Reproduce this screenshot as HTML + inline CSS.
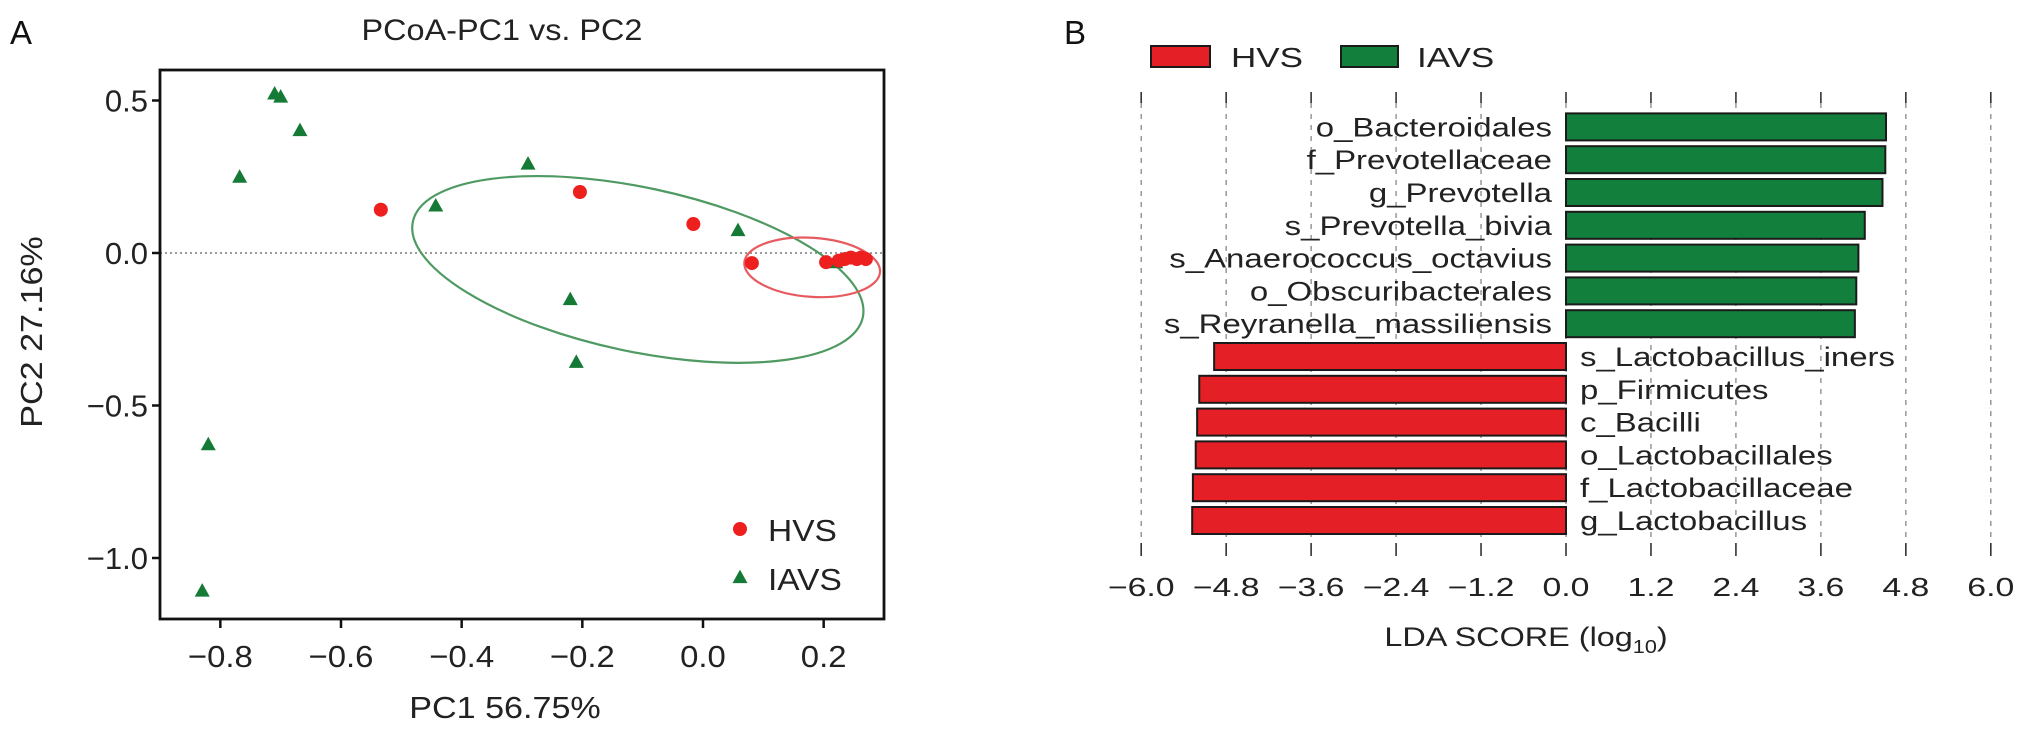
<!DOCTYPE html>
<html><head><meta charset="utf-8">
<style>
html,body{margin:0;padding:0;background:#fff;}
svg{display:block;font-family:"Liberation Sans",Arial,sans-serif;}
</style></head>
<body>
<svg id="fig" width="2031" height="731" viewBox="0 0 2031 731" xmlns="http://www.w3.org/2000/svg">
  <text x="10" y="44" font-size="33" fill="#111">A</text>
  <text x="1064" y="44" font-size="33" fill="#111">B</text>
  <g id="pa"></g>
  <g id="pb"></g>
</svg>
<script>
// ---------- Panel A data ----------
const hvsX = [-0.534, -0.204, -0.016, 0.081, 0.204, 0.225, 0.235, 0.245, 0.255, 0.262, 0.27];
const hvsY = [0.142, 0.200, 0.095, -0.033, -0.03, -0.025, -0.02, -0.015, -0.02, -0.015, -0.02];
const iavsX = [-0.71, -0.70, -0.668, -0.768, -0.29, -0.443, 0.058, -0.22, -0.21, -0.82, -0.83, 0.22];
const iavsY = [0.52, 0.51, 0.40, 0.247, 0.29, 0.153, 0.072, -0.154, -0.36, -0.63, -1.11, -0.033];
const xTicksA = [-0.8, -0.6, -0.4, -0.2, 0.0, 0.2];
const yTicksA = [0.5, 0.0, -0.5, -1.0];
const ellGreen = {cx: -0.108, cy: -0.054, a: 230, b: 82, rot: 12};
const ellRed = {cx: 0.181, cy: -0.047, a: 68, b: 29.5, rot: 4};

// ---------- Panel B data ----------
const ldaLabels = ["o_Bacteroidales","f_Prevotellaceae","g_Prevotella","s_Prevotella_bivia","s_Anaerococcus_octavius","o_Obscuribacterales","s_Reyranella_massiliensis","s_Lactobacillus_iners","p_Firmicutes","c_Bacilli","o_Lactobacillales","f_Lactobacillaceae","g_Lactobacillus"];
const ldaValues = [4.52, 4.51, 4.47, 4.22, 4.13, 4.10, 4.08, -4.97, -5.18, -5.21, -5.23, -5.27, -5.28];
const ldaTicks = [-6.0, -4.8, -3.6, -2.4, -1.2, 0.0, 1.2, 2.4, 3.6, 4.8, 6.0];

const NS = "http://www.w3.org/2000/svg";
function mk(tag, attrs, parent){ const e=document.createElementNS(NS,tag); for(const k in attrs) e.setAttribute(k,attrs[k]); parent.appendChild(e); return e; }
function stretch(t,k){ const w=t.getComputedTextLength(); t.setAttribute('textLength', (w*k).toFixed(1)); t.setAttribute('lengthAdjust','spacingAndGlyphs'); }
const fmt = v => (v<0?'\u2212':'') + Math.abs(v).toFixed(1);

// ---------- Panel A ----------
const pa = document.getElementById('pa');
const AL=160, AR=884, AT=70, AB=619;
const xA = v => AL + (v - (-0.9)) / 1.2 * (AR-AL);
const yA = v => AB - (v - (-1.2)) / 1.8 * (AB-AT);

let t = mk('text',{x:502,y:40,'font-size':30,'text-anchor':'middle',fill:'#222'},pa); t.textContent='PCoA-PC1 vs. PC2';
  stretch(t,1.08);

let zl = mk('line',{x1:AL,x2:AR,y1:yA(0),y2:yA(0),stroke:'#999','stroke-width':2,'stroke-dasharray':'2,3'},pa);
 

yTicksA.forEach(v=>{
  const y=yA(v);
  const l=mk('line',{x1:AL-8,x2:AL,y1:y,y2:y,stroke:'#111','stroke-width':2.5},pa);
   
  const tx=mk('text',{x:148,y:y+11,'font-size':31,'text-anchor':'end',fill:'#222'},pa); tx.textContent=fmt(v);
   
});
xTicksA.forEach(v=>{
  const x=xA(v);
  const l=mk('line',{x1:x,x2:x,y1:AB,y2:AB+9,stroke:'#111','stroke-width':2.5},pa);
   
  const tx=mk('text',{x:x,y:667,'font-size':31,'text-anchor':'middle',fill:'#222'},pa); tx.textContent=fmt(v);
   
  stretch(tx,1.06);
});
t=mk('text',{x:505,y:718,'font-size':31,'text-anchor':'middle',fill:'#222'},pa); t.textContent='PC1 56.75%';
  stretch(t,1.1);
t=mk('text',{x:0,y:0,'font-size':31,'text-anchor':'middle',fill:'#222',transform:'translate(42,332) rotate(-90)'},pa); t.textContent='PC2 27.16%';
  stretch(t,1.1);

[[ellGreen,'#4f9a62','green-ellipse'],[ellRed,'#e65a60','red-ellipse']].forEach(([e,c,n])=>{
  const el=mk('ellipse',{cx:0,cy:0,rx:e.a,ry:e.b,fill:'none',stroke:c,'stroke-width':2.2,transform:`translate(${xA(e.cx)},${yA(e.cy)}) rotate(${e.rot})`},pa);
   
});
function tri(x,y,s,parent){ const h=s*0.9; return mk('polygon',{points:`${x},${y-h*0.62} ${x-s/2},${y+h*0.38} ${x+s/2},${y+h*0.38}`,fill:'#157a36'},parent); }
iavsX.forEach((v,i)=>{
  const p=tri(xA(v),yA(iavsY[i]),15,pa);
   
});
hvsX.forEach((v,i)=>{
  const c=mk('circle',{cx:xA(v),cy:yA(hvsY[i]),r:7,fill:'#ee1f1f'},pa);
   
});
let box=mk('rect',{x:AL,y:AT,width:AR-AL,height:AB-AT,fill:'none',stroke:'#111','stroke-width':2.8},pa);
 
// legend A
let lc=mk('circle',{cx:740,cy:529,r:7,fill:'#ee1f1f'},pa);
 
t=mk('text',{x:768,y:541,'font-size':31,fill:'#222'},pa); t.textContent='HVS';
  stretch(t,1.08);
let lt=tri(740,578,15,pa);
 
t=mk('text',{x:768,y:590,'font-size':31,fill:'#222'},pa); t.textContent='IAVS';
  stretch(t,1.08);

// ---------- Panel B ----------
const pb=document.getElementById('pb');
const x0=1566, ppu=70.8;
const xB = v => x0 + v*ppu;
const barTop=113.4, pitch=32.8, barH=27;
const K=1.3;

ldaTicks.forEach(v=>{
  const x=xB(v);
  const g=mk('line',{x1:x,x2:x,y1:103,y2:543,stroke:'#888','stroke-width':1.3,'stroke-dasharray':'5,6'},pb);
   
  const t1=mk('line',{x1:x,x2:x,y1:92,y2:103,stroke:'#333','stroke-width':1.6},pb);
   
  const t2=mk('line',{x1:x,x2:x,y1:543,y2:556,stroke:'#333','stroke-width':1.6},pb);
   
  const tx=mk('text',{x:x,y:596,'font-size':26,'text-anchor':'middle',fill:'#222'},pb); tx.textContent=fmt(v);
    stretch(tx,K);
});
ldaValues.forEach((v,i)=>{
  const y=barTop+i*pitch;
  const x1=Math.min(xB(0),xB(v)), w=Math.abs(xB(v)-xB(0));
  const r=mk('rect',{x:x1,y:y,width:w,height:barH,fill:v>0?'#12803c':'#e41f26',stroke:'#1a1a1a','stroke-width':2},pb);
   
  const tx=mk('text',{x:v>0?1552:1580,y:y+barH/2+9.5,'font-size':27,'text-anchor':v>0?'end':'start',fill:'#222'},pb);
  tx.textContent=ldaLabels[i];
    stretch(tx,1.22);
});
t=mk('text',{x:1526,y:646,'font-size':27,'text-anchor':'middle',fill:'#222'},pb);
t.innerHTML='LDA SCORE (log<tspan font-size="18" dy="7">10</tspan><tspan dy="-7">)</tspan>';
  stretch(t,1.2);
// legend B
let r1=mk('rect',{x:1151,y:46,width:59,height:21,fill:'#e41f26',stroke:'#1a1a1a','stroke-width':2},pb);
 
t=mk('text',{x:1231,y:67,'font-size':28,fill:'#222'},pb); t.textContent='HVS';
  stretch(t,1.25);
let r2=mk('rect',{x:1341,y:46,width:57,height:21,fill:'#12803c',stroke:'#1a1a1a','stroke-width':2},pb);
 
t=mk('text',{x:1417,y:67,'font-size':28,fill:'#222'},pb); t.textContent='IAVS';
  stretch(t,1.25);
</script>
</body></html>
